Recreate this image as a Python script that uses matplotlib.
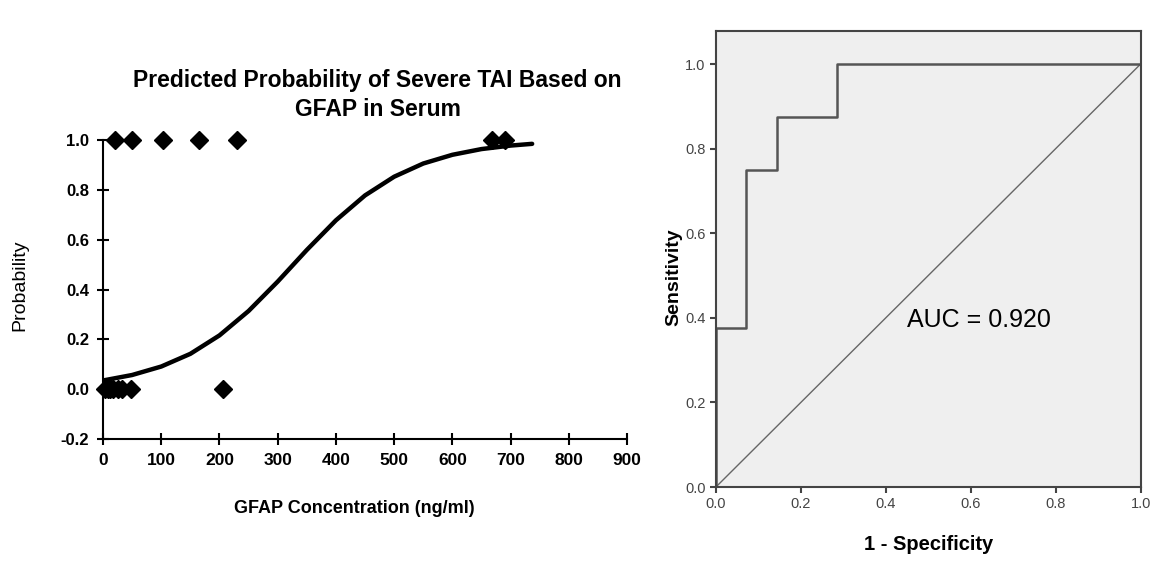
import matplotlib.pyplot as plt

plt.rcParams['font.family'] = ['Liberation Sans', 'DejaVu Sans']

# left panel data
gfap_pos = [20, 50, 103, 165, 230, 668, 690]
prob_pos = [1, 1, 1, 1, 1, 1, 1]
gfap_neg = [3, 8, 12, 18, 25, 33, 48, 206]
prob_neg = [0, 0, 0, 0, 0, 0, 0, 0]
curve_x = [0, 50, 100, 150, 200, 250, 300, 350, 400, 450, 500, 550, 600, 650, 700, 737]
curve_p = [0.035, 0.057, 0.091, 0.142, 0.216, 0.314, 0.432, 0.559, 0.678, 0.778,
           0.853, 0.906, 0.941, 0.964, 0.978, 0.985]

# right panel data (ROC)
fpr = [0.0, 0.0, 0.071, 0.071, 0.143, 0.143, 0.286, 0.286, 1.0]
tpr = [0.0, 0.375, 0.375, 0.75, 0.75, 0.875, 0.875, 1.0, 1.0]
auc_label = 'AUC = 0.920'

fig = plt.figure(figsize=(11.51, 5.64), dpi=100)

# ---- left: logistic curve ----
ax1 = fig.add_axes([0.0895, 0.2216, 0.4553, 0.530])
ax1.plot(curve_x, curve_p, color='black', lw=3.2, solid_capstyle='round')
ax1.plot(gfap_pos, prob_pos, 'D', color='black', ms=9, clip_on=False)
ax1.plot(gfap_neg, prob_neg, 'D', color='black', ms=9, clip_on=False)
ax1.set_xlim(0, 900)
ax1.set_ylim(-0.2, 1.0)
ax1.set_xticks(range(0, 1000, 100))
ax1.set_yticks([-0.2, 0.0, 0.2, 0.4, 0.6, 0.8, 1.0])
ax1.set_yticklabels(['-0.2', '0.0', '0.2', '0.4', '0.6', '0.8', '1.0'])
for s in ['top', 'right']:
    ax1.spines[s].set_visible(False)
for s in ['left', 'bottom']:
    ax1.spines[s].set_linewidth(1.5)
ax1.tick_params(direction='inout', length=8, width=1.5)
ax1.tick_params(axis='x', labelsize=12.5, pad=6)
ax1.tick_params(axis='y', labelsize=12, pad=6)
for lab in ax1.get_xticklabels() + ax1.get_yticklabels():
    lab.set_fontweight('bold')
ax1.set_xlabel('GFAP Concentration (ng/ml)', fontsize=13, fontweight='bold')
ax1.xaxis.set_label_coords(0.479, -0.205)
ax1.set_ylabel('Probability', fontsize=14)
ax1.yaxis.set_label_coords(-0.142, 0.515)
fig.text(0.328, 0.832, 'Predicted Probability of Severe TAI Based on\nGFAP in Serum',
         fontsize=16.5, fontweight='bold', ha='center', va='center', linespacing=1.35)

# ---- right: ROC curve ----
ax2 = fig.add_axes([0.622, 0.1365, 0.369, 0.8085])
ax2.set_facecolor('#efefef')
ax2.plot([0, 1], [0, 1], color='#666666', lw=1)
ax2.plot(fpr, tpr, color='#555555', lw=1.8)
ax2.set_xlim(0, 1.0)
ax2.set_ylim(0, 1.078)
ax2.set_xticks([0, 0.2, 0.4, 0.6, 0.8, 1.0])
ax2.set_yticks([0, 0.2, 0.4, 0.6, 0.8, 1.0])
ax2.set_xticklabels(['0.0', '0.2', '0.4', '0.6', '0.8', '1.0'])
ax2.set_yticklabels(['0.0', '0.2', '0.4', '0.6', '0.8', '1.0'])
for s in ax2.spines.values():
    s.set_color('#444444')
    s.set_linewidth(1.5)
ax2.tick_params(direction='out', length=4, width=1.5, colors='#444444', labelsize=10.5)
ax2.set_xlabel('1 - Specificity', fontsize=14.5, fontweight='bold')
ax2.xaxis.set_label_coords(0.5, -0.105)
ax2.set_ylabel('Sensitivity', fontsize=14, fontweight='bold')
ax2.yaxis.set_label_coords(-0.08, 0.46)
ax2.text(0.62, 0.395, auc_label, fontsize=18, ha='center', va='center')

fig.savefig('out.png', dpi=100)
